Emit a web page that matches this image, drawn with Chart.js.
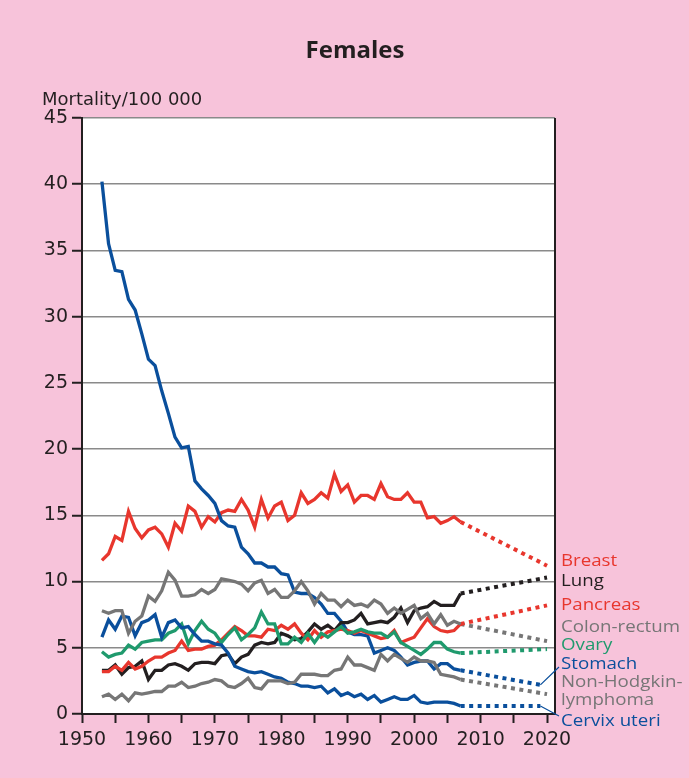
<!DOCTYPE html>
<html lang="en">
<head>
  <meta charset="UTF-8" />
  <title>Females - mortality</title>
  <script src="https://cdn.jsdelivr.net/npm/chart.js"></script>
  <style>
    html, body { margin: 0; padding: 0; background: #f7c3da; }
    #chart { display: block; }
  </style>
</head>
<body>
  <canvas id="chart" width="689" height="778"></canvas>
  <script>
    // Observed years
    const years = [1953, 1954, 1955, 1956, 1957, 1958, 1959, 1960, 1961, 1962,
      1963, 1964, 1965, 1966, 1967, 1968, 1969, 1970, 1971, 1972,
      1973, 1974, 1975, 1976, 1977, 1978, 1979, 1980, 1981, 1982,
      1983, 1984, 1985, 1986, 1987, 1988, 1989, 1990, 1991, 1992,
      1993, 1994, 1995, 1996, 1997, 1998, 1999, 2000, 2001, 2002,
      2003, 2004, 2005, 2006, 2007];

    const breast = [11.6, 12.1, 13.4, 13.1, 15.3, 14.0, 13.3, 13.9, 14.1, 13.6,
      12.6, 14.4, 13.8, 15.7, 15.3, 14.1, 14.9, 14.5, 15.2, 15.4,
      15.3, 16.2, 15.4, 14.1, 16.2, 14.8, 15.7, 16.0, 14.6, 15.0,
      16.7, 15.9, 16.2, 16.7, 16.3, 18.1, 16.8, 17.3, 16.0, 16.5,
      16.5, 16.2, 17.4, 16.4, 16.2, 16.2, 16.7, 16.0, 16.0, 14.8,
      14.9, 14.4, 14.6, 14.9, 14.5];
    const lung = [3.3, 3.3, 3.7, 3.0, 3.5, 3.6, 4.0, 2.6, 3.3, 3.3,
      3.7, 3.8, 3.6, 3.3, 3.8, 3.9, 3.9, 3.8, 4.4, 4.5,
      3.8, 4.3, 4.5, 5.2, 5.4, 5.3, 5.4, 6.1, 5.9, 5.6,
      5.7, 6.2, 6.8, 6.4, 6.7, 6.3, 6.9, 6.9, 7.1, 7.6,
      6.8, 6.9, 7.0, 6.9, 7.3, 8.0, 6.9, 7.8, 8.0, 8.1,
      8.5, 8.2, 8.2, 8.2, 9.1];
    const pancreas = [3.2, 3.2, 3.6, 3.3, 3.9, 3.4, 3.6, 4.0, 4.3, 4.3,
      4.6, 4.8, 5.5, 4.8, 4.9, 4.9, 5.1, 5.2, 5.6, 6.1,
      6.6, 6.3, 5.9, 5.9, 5.8, 6.4, 6.3, 6.7, 6.4, 6.8,
      6.1, 5.6, 6.3, 5.8, 6.2, 6.3, 6.4, 6.3, 6.1, 6.3,
      6.1, 5.9, 5.7, 5.8, 6.3, 5.4, 5.6, 5.8, 6.5, 7.2,
      6.6, 6.3, 6.2, 6.3, 6.8];
    const colonRectum = [7.8, 7.6, 7.8, 7.8, 6.1, 7.0, 7.4, 8.9, 8.5, 9.3,
      10.7, 10.1, 8.9, 8.9, 9.0, 9.4, 9.1, 9.4, 10.2, 10.1,
      10.0, 9.8, 9.3, 9.9, 10.1, 9.1, 9.4, 8.8, 8.8, 9.3,
      10.0, 9.3, 8.3, 9.1, 8.6, 8.6, 8.1, 8.6, 8.2, 8.3,
      8.1, 8.6, 8.3, 7.6, 8.0, 7.6, 7.9, 8.2, 7.2, 7.6,
      6.8, 7.5, 6.7, 7.0, 6.8];
    const ovary = [4.7, 4.3, 4.5, 4.6, 5.2, 4.9, 5.4, 5.5, 5.6, 5.6,
      6.1, 6.3, 6.8, 5.3, 6.3, 7.0, 6.4, 6.1, 5.4, 6.0,
      6.5, 5.6, 6.0, 6.5, 7.7, 6.8, 6.8, 5.3, 5.3, 5.8,
      5.4, 6.1, 5.4, 6.1, 5.8, 6.2, 6.6, 6.1, 6.2, 6.4,
      6.2, 6.1, 6.1, 5.8, 6.2, 5.4, 5.1, 4.8, 4.5, 4.9,
      5.4, 5.4, 4.9, 4.7, 4.6];
    const stomach = [40.2, 35.5, 33.5, 33.4, 31.3, 30.5, 28.7, 26.8, 26.3, 24.4,
      22.7, 20.9, 20.1, 20.2, 17.6, 17.0, 16.5, 15.9, 14.6, 14.2,
      14.1, 12.6, 12.1, 11.4, 11.4, 11.1, 11.1, 10.6, 10.5, 9.2,
      9.1, 9.1, 8.8, 8.3, 7.6, 7.6, 7.0, 6.2, 6.0, 6.0,
      5.9, 4.6, 4.8, 5.0, 4.8, 4.3, 3.7, 3.9, 4.0, 4.0,
      3.4, 3.8, 3.8, 3.4, 3.3];
    const nhl = [1.3, 1.5, 1.1, 1.5, 1.0, 1.6, 1.5, 1.6, 1.7, 1.7,
      2.1, 2.1, 2.4, 2.0, 2.1, 2.3, 2.4, 2.6, 2.5, 2.1,
      2.0, 2.3, 2.7, 2.0, 1.9, 2.5, 2.5, 2.5, 2.3, 2.4,
      3.0, 3.0, 3.0, 2.9, 2.9, 3.3, 3.4, 4.3, 3.7, 3.7,
      3.5, 3.3, 4.5, 4.0, 4.5, 4.2, 3.9, 4.3, 4.0, 4.0,
      3.9, 3.0, 2.9, 2.8, 2.6];
    const cervixUteri = [5.8, 7.1, 6.4, 7.4, 7.3, 5.9, 6.9, 7.1, 7.5, 5.8,
      6.9, 7.1, 6.5, 6.6, 6.0, 5.5, 5.5, 5.3, 5.2, 4.6,
      3.6, 3.4, 3.2, 3.1, 3.2, 3.0, 2.8, 2.7, 2.4, 2.3,
      2.1, 2.1, 2.0, 2.1, 1.6, 1.9, 1.4, 1.6, 1.3, 1.5,
      1.1, 1.4, 0.9, 1.1, 1.3, 1.1, 1.1, 1.4, 0.9, 0.8,
      0.9, 0.9, 0.9, 0.8, 0.6];

    // Projections (last observed year -> projection end)
    const projYears = [2007, 2020];
    const projYearsShort = [2007, 2019];
    const breastProj = [14.5, 11.2];
    const lungProj = [9.1, 10.3];
    const pancreasProj = [6.8, 8.2];
    const colonRectumProj = [6.8, 5.5];
    const ovaryProj = [4.6, 4.9];
    const stomachProj = [3.3, 2.2];
    const nhlProj = [2.6, 1.5];
    const cervixUteriProj = [0.6, 0.6];

    const RED = '#e8362d', BLACK = '#231f20', GREY = '#767676',
          GREEN = '#1f9a6d', BLUE = '#0a4f9c';

    const labels = [
      { text: 'Breast', color: RED, y: 561 },
      { text: 'Lung', color: BLACK, y: 581 },
      { text: 'Pancreas', color: RED, y: 605 },
      { text: 'Colon-rectum', color: GREY, y: 627 },
      { text: 'Ovary', color: GREEN, y: 645 },
      { text: 'Stomach', color: BLUE, y: 664 },
      { text: 'Non-Hodgkin-', color: GREY, y: 682 },
      { text: 'lymphoma', color: GREY, y: 700 },
      { text: 'Cervix uteri', color: BLUE, y: 721 }
    ];

    const toXY = (xs, ys) => ys.map((v, i) => ({ x: xs[i], y: v }));

    function solid(data, color) {
      return { data: toXY(years, data), borderColor: color, borderWidth: 3.3,
               pointRadius: 0, fill: false, tension: 0 };
    }
    function dotted(xs, data, color) {
      return { data: toXY(xs, data), borderColor: color, borderWidth: 4,
               borderDash: [4, 4.5], pointRadius: 0, fill: false, tension: 0 };
    }

    const decor = {
      id: 'decor',
      beforeDraw(chart) {
        const { ctx, chartArea: a } = chart;
        ctx.save();
        ctx.fillStyle = '#f7c3da';
        ctx.fillRect(0, 0, chart.width, chart.height);
        ctx.fillStyle = '#ffffff';
        ctx.fillRect(a.left, a.top, a.right - a.left, a.bottom - a.top);
        ctx.restore();
      },
      afterDraw(chart) {
        const { ctx, chartArea: a, scales } = chart;
        ctx.save();
        // right border
        ctx.strokeStyle = BLACK;
        ctx.lineWidth = 2;
        ctx.beginPath();
        ctx.moveTo(a.right, a.top);
        ctx.lineTo(a.right, a.bottom + 1);
        ctx.stroke();

        // title + axis caption
        ctx.fillStyle = BLACK;
        ctx.textBaseline = 'alphabetic';
        ctx.textAlign = 'center';
        ctx.font = 'bold 24px "Open Sans"';
        ctx.fillText('Females', 355, 58);
        ctx.textAlign = 'left';
        ctx.font = '18px "DejaVu Sans"';
        ctx.fillText('Mortality/100 000', 42, 105);

        // leader lines
        ctx.strokeStyle = BLUE;
        ctx.lineWidth = 1.2;
        ctx.beginPath();
        ctx.moveTo(scales.x.getPixelForValue(projYearsShort[1]), scales.y.getPixelForValue(stomachProj[1]));
        ctx.lineTo(559, 667);
        ctx.moveTo(scales.x.getPixelForValue(projYearsShort[1]), scales.y.getPixelForValue(cervixUteriProj[1]));
        ctx.lineTo(559, 716);
        ctx.stroke();

        // series labels (slightly widened to match the reference face)
        ctx.font = '17px "Open Sans"';
        ctx.textBaseline = 'middle';
        labels.forEach(l => {
          ctx.save();
          ctx.translate(561, l.y);
          ctx.scale(1.1, 1);
          ctx.fillStyle = l.color;
          ctx.fillText(l.text, 0, 0);
          ctx.restore();
        });
        ctx.restore();
      }
    };

    new Chart(document.getElementById('chart'), {
      type: 'line',
      data: {
        datasets: [
          solid(nhl, GREY), solid(colonRectum, GREY),
          solid(cervixUteri, BLUE), solid(ovary, GREEN),
          solid(pancreas, RED), solid(lung, BLACK),
          solid(stomach, BLUE), solid(breast, RED),
          dotted(projYears, breastProj, RED),
          dotted(projYears, lungProj, BLACK),
          dotted(projYears, pancreasProj, RED),
          dotted(projYears, colonRectumProj, GREY),
          dotted(projYears, ovaryProj, GREEN),
          dotted(projYearsShort, stomachProj, BLUE),
          dotted(projYears, nhlProj, GREY),
          dotted(projYearsShort, cervixUteriProj, BLUE)
        ]
      },
      options: {
        responsive: false,
        animation: false,
        layout: { padding: { top: 118, right: 134, left: 0, bottom: 0 } },
        plugins: { legend: { display: false }, tooltip: { enabled: false } },
        scales: {
          x: {
            type: 'linear', min: 1950, max: 2021.2,
            afterFit: s => { s.height = 64; },
            border: { color: BLACK, width: 2 },
            grid: { drawOnChartArea: false, tickLength: 9, tickColor: BLACK, tickWidth: 2 },
            ticks: {
              stepSize: 5, includeBounds: false, autoSkip: false, maxRotation: 0,
              padding: 6, color: BLACK, font: { family: 'DejaVu Sans', size: 19 },
              callback: v => (v % 10 === 0 ? String(v) : '')
            }
          },
          y: {
            min: 0, max: 45,
            afterFit: s => { s.width = 82; },
            border: { color: BLACK, width: 2 },
            grid: { color: '#8a8a8a', lineWidth: 1.5, tickLength: 10, tickColor: BLACK, tickWidth: 2 },
            ticks: {
              stepSize: 5, padding: 4, color: BLACK,
              font: { family: 'DejaVu Sans', size: 19 }
            }
          }
        }
      },
      plugins: [decor]
    });
  </script>
</body>
</html>
